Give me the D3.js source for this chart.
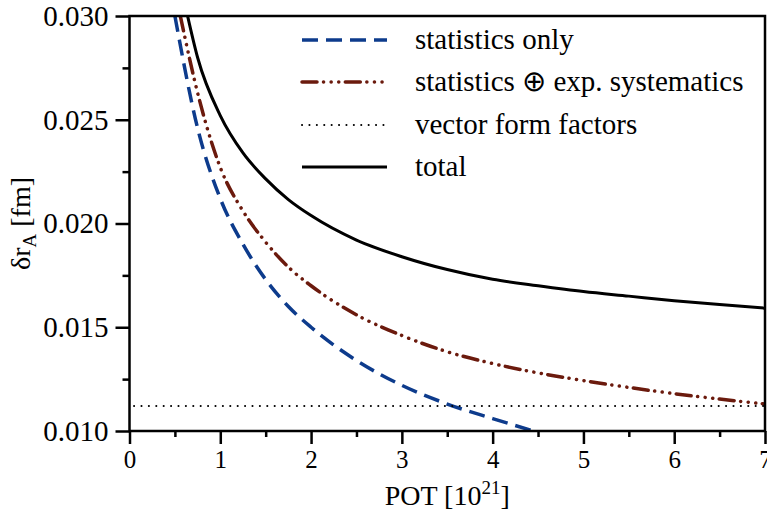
<!DOCTYPE html>
<html>
<head>
<meta charset="utf-8">
<script src="https://cdn.jsdelivr.net/npm/d3@7"></script>
<style>
body { margin: 0; background: #fff; }
svg text { font-family: "Liberation Serif", "Times New Roman", serif !important; fill: #000; }
</style>
</head>
<body>
<div id="container"></div>
<script>
var width = 767, height = 510;
var pLeft = 129.5, pRight = 765, pTop = 16, pBottom = 431;
var serif = '"Liberation Serif", "Times New Roman", serif';

// data
var potTotal = [0.64, 0.75, 1.0, 1.25, 1.5, 1.75, 2.0, 2.5, 3.0, 3.5, 4.0, 4.5, 5.0, 5.5, 6.0, 6.5, 7.0];
var errTotal = [0.0300, 0.0280, 0.0252, 0.02340, 0.02215, 0.02115, 0.02038, 0.01920, 0.01840, 0.01778, 0.01731, 0.01700, 0.01672, 0.01650, 0.01628, 0.01610, 0.01592];
var potSys = [0.56, 0.75, 1.0, 1.25, 1.5, 1.75, 2.0, 2.5, 3.0, 3.5, 4.0, 4.5, 5.0, 5.5, 6.0, 6.5, 7.0];
var errSys = [0.0300, 0.0263, 0.0227, 0.0206, 0.0191, 0.0179, 0.0170, 0.0156, 0.0146, 0.01382, 0.01325, 0.01280, 0.01243, 0.01210, 0.01180, 0.01154, 0.01130];
var potStat = [0.50, 0.75, 1.0, 1.25, 1.5, 1.75, 2.0, 2.5, 3.0, 3.5, 4.0, 4.45];
var errStat = [0.0300, 0.0246, 0.0212, 0.0190, 0.0173, 0.0160, 0.0150, 0.0134, 0.0122, 0.0113, 0.0106, 0.0100];
var vectorFF = 0.0112;
var xTicks = [0, 1, 2, 3, 4, 5, 6, 7];
var yTicks = [0.010, 0.015, 0.020, 0.025, 0.030];
var legendLabels = ["statistics only", "statistics \u2295 exp. systematics", "vector form factors", "total"];

var xScale = d3.scaleLinear().domain([0, 7]).range([pLeft, pRight]);
var yScale = d3.scaleLinear().domain([0.010, 0.030]).range([pBottom, pTop]);

var styles = [
	{color: "#0d3b8c", width: 3.5, dash: "16,8", cap: "butt"},
	{color: "#6b1a0d", width: 3.5, dash: "15,6.5,0.1,7.5,0.1,7.5,0.1,6.5", cap: "round"},
	{color: "#000", width: 2, dash: "0.1,7.3", cap: "round"},
	{color: "#000", width: 3, dash: null, cap: "butt"}
];

var svg = d3.select('#container').append('svg')
	.attr('width', width)
	.attr('height', height)
	.style('font-family', serif);

svg.append('clipPath').attr('id', 'plotclip')
	.append('rect')
	.attr('x', pLeft).attr('y', pTop)
	.attr('width', pRight - pLeft).attr('height', pBottom - pTop);

function pairs(xs, ys) {
	return xs.map(function(x, i) { return {x: x, y: ys[i]}; });
}

var line = d3.line()
	.x(function(d) { return xScale(d.x); })
	.y(function(d) { return yScale(d.y); })
	.curve(d3.curveMonotoneX);

var series = [
	pairs(potStat, errStat),
	pairs(potSys, errSys),
	pairs([0.05, 7], [vectorFF, vectorFF]),
	pairs(potTotal, errTotal)
];

var plot = svg.append('g').attr('clip-path', 'url(#plotclip)');
series.forEach(function(s, i) {
	plot.append('path')
		.attr('d', line(s))
		.attr('fill', 'none')
		.attr('stroke', styles[i].color)
		.attr('stroke-width', styles[i].width)
		.attr('stroke-linecap', styles[i].cap)
		.attr('stroke-dasharray', styles[i].dash);
});

// axes
function styleAxis(g, size) {
	g.attr('font-size', null).attr('font-family', serif);
	g.selectAll('.domain').remove();
	g.selectAll('line').attr('stroke', '#000').attr('stroke-width', 2.5);
	g.selectAll('text').style('font-size', size + 'px').style('font-family', serif);
}

var yMinor = svg.append('g').attr('transform', 'translate(' + pLeft + ',0)')
	.call(d3.axisLeft(yScale).tickValues([0.0125, 0.0175, 0.0225, 0.0275]).tickSize(7).tickFormat(''));
styleAxis(yMinor, 29);
var yAxis = svg.append('g').attr('transform', 'translate(' + pLeft + ',0)')
	.call(d3.axisLeft(yScale).tickValues(yTicks).tickSize(14).tickPadding(7).tickFormat(d3.format('.3f')));
styleAxis(yAxis, 29);

var xMinor = svg.append('g').attr('transform', 'translate(0,' + pBottom + ')')
	.call(d3.axisBottom(xScale).tickValues([0.5, 1.5, 2.5, 3.5, 4.5, 5.5, 6.5]).tickSize(6).tickFormat(''));
styleAxis(xMinor, 25);
var xAxis = svg.append('g').attr('transform', 'translate(0,' + pBottom + ')')
	.call(d3.axisBottom(xScale).tickValues(xTicks).tickSize(13).tickPadding(6).tickFormat(d3.format('d')));
styleAxis(xAxis, 25);

svg.append('rect')
	.attr('x', pLeft).attr('y', pTop)
	.attr('width', pRight - pLeft).attr('height', pBottom - pTop)
	.attr('fill', 'none').attr('stroke', '#000').attr('stroke-width', 2.5);

// axis titles
var xt = svg.append('text')
	.attr('x', (pLeft + pRight) / 2).attr('y', 505)
	.attr('text-anchor', 'middle')
	.style('font-family', serif)
	.style('font-size', '28px');
xt.append('tspan').text('POT [10');
xt.append('tspan').attr('dy', -11).style('font-size', '19px').text('21');
xt.append('tspan').attr('dy', 11).text(']');

var yt = svg.append('text')
	.attr('transform', 'translate(30,' + (pTop + pBottom) / 2 + ') rotate(-90)')
	.attr('text-anchor', 'middle')
	.style('font-family', serif)
	.style('font-size', '28px');
yt.append('tspan').text('\u03b4r');
yt.append('tspan').attr('dy', 6).style('font-size', '19px').text('A');
yt.append('tspan').attr('dy', -6).text(' [fm]');

// legend
var legend = svg.append('g');
var rowY = [40, 82, 125, 167];
legendLabels.forEach(function(label, i) {
	legend.append('line')
		.attr('x1', 302).attr('x2', 387)
		.attr('y1', rowY[i]).attr('y2', rowY[i])
		.attr('stroke', styles[i].color)
		.attr('stroke-width', styles[i].width)
		.attr('stroke-linecap', styles[i].cap)
		.attr('stroke-dasharray', styles[i].dash);
	legend.append('text')
		.attr('x', 415).attr('y', rowY[i] + 9)
		.style('font-family', serif)
		.style('font-size', '29px')
		.text(label);
});
</script>
</body>
</html>
